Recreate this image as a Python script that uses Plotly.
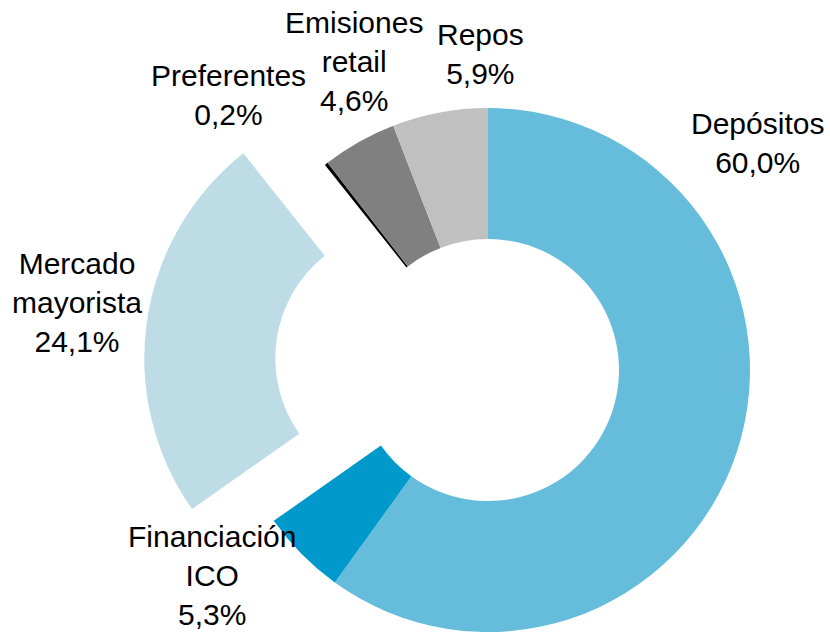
import math
import plotly.graph_objects as go

# ---- data ----
labels = ["Depósitos", "Financiación ICO", "Mercado mayorista", "Preferentes", "Emisiones retail", "Repos"]
label_text = ["Depósitos<br>60,0%", "Financiación<br>ICO<br>5,3%", "Mercado<br>mayorista<br>24,1%",
              "Preferentes<br>0,2%", "Emisiones<br>retail<br>4,6%", "Repos<br>5,9%"]
values = [60.0, 5.3, 24.1, 0.2, 4.6, 5.9]
colors = ["#65BDDB", "#0099CC", "#BDDCE6", "#000000", "#808080", "#C0C0C0"]
pulled = "Mercado mayorista"

# ---- layout geometry (pixels) ----
W, H = 830, 633
cx, cy, r = 488, 370, 262
pull = 0.315
label_pos = [(757, 143), (212, 575), (77, 302), (228, 95), (354, 62), (480, 54)]
FONT = "Liberation Sans, Arial, sans-serif"

def domain(cxp, cyp):
    return dict(x=[(cxp - r) / W, (cxp + r) / W],
                y=[1 - (cyp + r) / H, 1 - (cyp - r) / H])

# direction of the pulled slice, from the data
total = sum(values)
i = labels.index(pulled)
start = sum(values[:i]) / total
mid = (start + values[i] / total / 2) * 2 * math.pi
off = pull * r
pcx = cx + math.sin(mid) * off
pcy = cy - math.cos(mid) * off

base_colors = [("rgba(0,0,0,0)" if l == pulled else c) for l, c in zip(labels, colors)]
pull_colors = [(c if l == pulled else "rgba(0,0,0,0)") for l, c in zip(labels, colors)]

fig = go.Figure()
fig.add_trace(go.Pie(labels=labels, values=values, hole=0.5, sort=False, direction="clockwise",
                     rotation=0, textinfo="none", showlegend=False,
                     marker=dict(colors=base_colors, line=dict(width=0)),
                     domain=domain(cx, cy)))
fig.add_trace(go.Pie(labels=labels, values=values, hole=0.5, sort=False, direction="clockwise",
                     rotation=0, textinfo="none", showlegend=False,
                     marker=dict(colors=pull_colors, line=dict(width=0)),
                     domain=domain(pcx, pcy)))

for txt, (x, y) in zip(label_text, label_pos):
    fig.add_annotation(text=txt, x=x / W, y=1 - y / H, xref="paper", yref="paper",
                       xanchor="center", yanchor="middle", showarrow=False,
                       align="center", font=dict(family=FONT, size=30, color="#000000"))

fig.update_layout(width=W, height=H, margin=dict(l=0, r=0, t=0, b=0),
                  paper_bgcolor="white", plot_bgcolor="white",
                  font=dict(family=FONT, size=30, color="#000000"))

fig.write_html("out.html", config={"displayModeBar": False},
               post_script="document.body.style.margin='0px';document.body.style.overflow='hidden';")
